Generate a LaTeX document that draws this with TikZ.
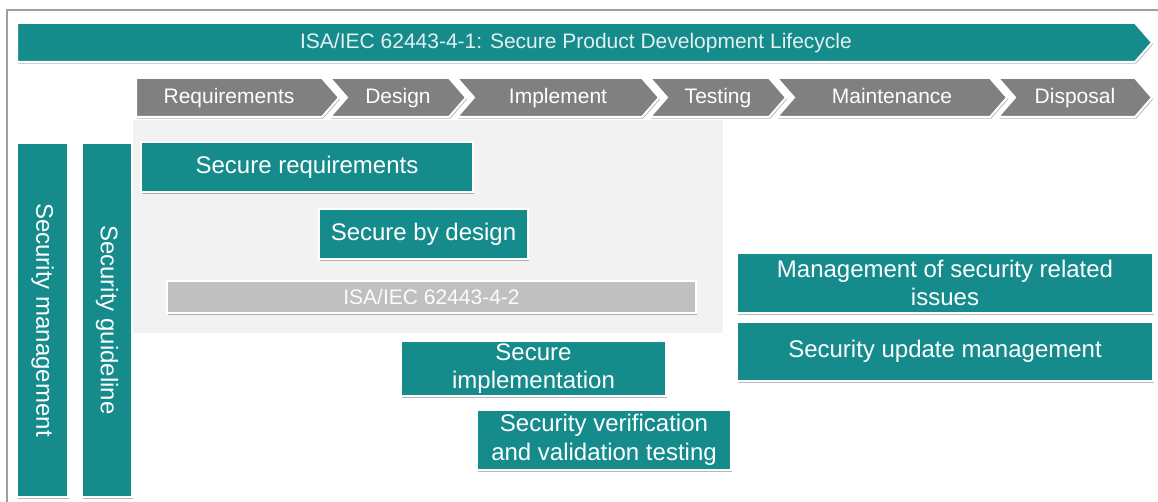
\documentclass[tikz,border=0pt]{standalone}
\usepackage{fontspec}
\setmainfont{Liberation Sans}
\usetikzlibrary{shadows}
\definecolor{tealbox}{RGB}{21,139,140}
\definecolor{phasegray}{RGB}{128,128,128}
\definecolor{bggray}{RGB}{242,242,242}
\definecolor{bargray}{RGB}{192,192,192}

\begin{document}
\begin{tikzpicture}[x=1pt,y=-1pt,
  softshadow/.style={drop shadow={shadow xshift=1.2pt,shadow yshift=-1.6pt,opacity=0.28,fill=black}},
  secbox/.style={draw=white,line width=2pt,fill=tealbox,text=white,inner sep=0pt,align=center,
    font=\fontsize{24}{28.5}\selectfont,softshadow},
  phase/.style={draw=white,line width=2pt,fill=phasegray,softshadow},
  phasetxt/.style={text=white,inner sep=0pt,text height=15pt,text depth=4.5pt,
    font=\fontsize{21}{25}\selectfont}]

 \useasboundingbox (0,0) rectangle (1158,502);
 \clip (0,0) rectangle (1158,502);
 \fill[white] (0,0) rectangle (1158,502);

 % window frame
 \draw[gray!75,line width=1.2pt] (7,520) -- (7,10) -- (1170,10);

 % lifecycle banner
 \path[phase,fill=tealbox] (17,23) -- (1135,23) -- (1152,42.5) -- (1135,62) -- (17,62) -- cycle;
 \node[phasetxt,text=white!88!tealbox] (title) at (576,43) {ISA/IEC 62443-4-1: Secure Product Development Lifecycle};

 % phases
 \foreach \xl/\xr/\n/\lbl/\i in {136/322/0/Requirements/1,330/449/17/Design/2,457/642/17/Implement/3,
     650/769/17/Testing/4,777/990/17/Maintenance/5,998/1135/17/Disposal/6}{
   \path[phase] (\xl,78) -- (\xr,78) -- ({\xr+17},97.5) -- (\xr,117) -- (\xl,117) -- ({\xl+\n},97.5) -- cycle;
   \node[phasetxt] (ph\i) at ({(\xl+\n+\xr)/2},98) {\lbl};
 }

 % 4-2 area
 \fill[bggray] (133,120) rectangle (723,333);

 % side bars
 \node[secbox,rotate=-90,minimum width=354pt,minimum height=51pt] (secmgmt) at (42.5,320) {Security management};
 \node[secbox,rotate=-90,minimum width=354pt,minimum height=50pt] (secguide) at (107,320) {Security guideline};

 % practices
 \node[secbox,minimum width=332pt,minimum height=50pt] (sreq) at (307,167) {Secure requirements};
 \node[secbox,minimum width=209pt,minimum height=50pt] (sdesign) at (423.5,234) {Secure by design};
 \node[secbox,fill=bargray,text=white!95!bargray,minimum width=529pt,minimum height=32pt,
   font=\fontsize{21}{25}\selectfont] (isa42) at (431.5,297) {ISA/IEC 62443-4-2};
 \node[secbox,minimum width=265pt,minimum height=55pt] (simpl) at (533.5,368.5) {Secure\\implementation};
 \node[secbox,minimum width=254pt,minimum height=60pt] (sverif) at (604,440) {Security verification\\and validation testing};
 \node[secbox,minimum width=416pt,minimum height=60pt] (mgmtiss) at (945,283) {Management of security related\\issues};
 \node[secbox,minimum width=416pt,minimum height=59pt] (supdate) at (945,351.5) {Security update management};
\end{tikzpicture}
\end{document}
